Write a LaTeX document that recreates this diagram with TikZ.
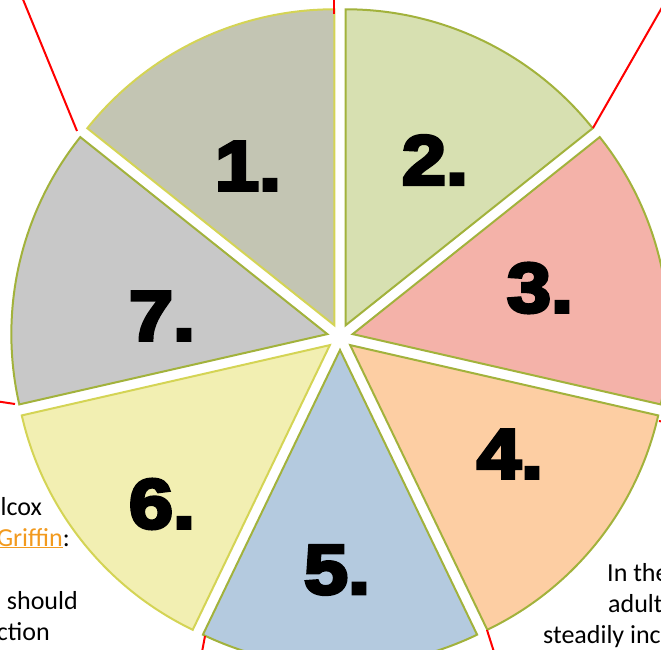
\documentclass[tikz,border=0pt]{standalone}
\usepackage{fontspec}
\usetikzlibrary{calc}
\newfontfamily\carlito{Carlito}
\newfontfamily\numfont[BoldFeatures={FakeBold=5, FakeStretch=1.13}]{Liberation Sans}
\definecolor{wa}{HTML}{C3C5B3}
\definecolor{wb}{HTML}{D7E0B1}
\definecolor{wc}{HTML}{F4B2A9}
\definecolor{wd}{HTML}{FDCEA3}
\definecolor{we}{HTML}{B4CADF}
\definecolor{wf}{HTML}{F2EFB2}
\definecolor{wg}{HTML}{C8C8C8}
\definecolor{olive}{HTML}{A2B23C}
\definecolor{yel}{HTML}{D4D455}
\definecolor{link}{HTML}{F29A1E}
\newcommand\mywedge[3]{%
  \pgfmathsetmacro\midang{#1+25.7143}%
  \filldraw[wedge, fill=#2, draw=#3] ($(C)+(\midang:13)$) -- ++(#1:316)
    arc[start angle=#1, delta angle=51.4286, radius=316] -- cycle;%
}
\begin{document}
\begin{tikzpicture}[x=1pt,y=1pt,
  wedge/.style={line width=2pt, line join=miter},
  num/.style={font=\numfont\bfseries\fontsize{70}{70}\selectfont, inner sep=0pt},
  txt/.style={font=\carlito\fontsize{26}{31}\selectfont, inner sep=0pt},
  redline/.style={draw=red, line width=2pt}]
\useasboundingbox (0,0) rectangle (661,649);
\clip (0,0) rectangle (661,649);
\coordinate (C) at (340,312);
\mywedge{90}{wa}{yel}
\mywedge{38.5714}{wb}{olive}
\mywedge{-12.8571}{wc}{olive}
\mywedge{-64.2857}{wd}{olive}
\mywedge{-115.7143}{we}{olive}
\mywedge{-167.1429}{wf}{yel}
\mywedge{141.4286}{wg}{olive}
\node[num] (n1) at (248,483) {1.};
\node[num] (n2) at (435,489) {2.};
\node[num] (n3) at (540,361) {3.};
\node[num] (n4) at (510,195) {4.};
\node[num] (n5) at (337,79) {5.};
\node[num] (n6) at (162,145) {6.};
\node[num] (n7) at (162,333) {7.};
% red connector lines
\coordinate (r1a) at (334,635); \coordinate (r1b) at (334,652);
\coordinate (r2a) at (593,521); \coordinate (r2b) at (668,652);
\coordinate (r3a) at (659,228); \coordinate (r3b) at (670,226);
\coordinate (r4a) at (487,19);  \coordinate (r4b) at (494,-3);
\coordinate (r5a) at (205,13);  \coordinate (r5b) at (202,-3);
\coordinate (r6a) at (15,245);  \coordinate (r6b) at (-5,248);
\coordinate (r7a) at (77,518);  \coordinate (r7b) at (22,652);
\foreach \k in {1,...,7}{\draw[redline] (r\k a) -- (r\k b);}
% texts
\node[txt, anchor=base east] (l1) at (42,134) {lcox};
\node[txt, anchor=base east] (l2) at (70,103) {\textcolor{link}{\underline{Griffin}}:};
\node[txt, anchor=base east] (l3) at (78,40) {should};
\node[txt, anchor=base east] (l4) at (50,9) {ction};
\node[txt, anchor=base west] (r1) at (607,68) {In the};
\node[txt, anchor=base west] (r2) at (608,37) {adult};
\node[txt, anchor=base west] (r3) at (543,6) {steadily inc};
\end{tikzpicture}
\end{document}
